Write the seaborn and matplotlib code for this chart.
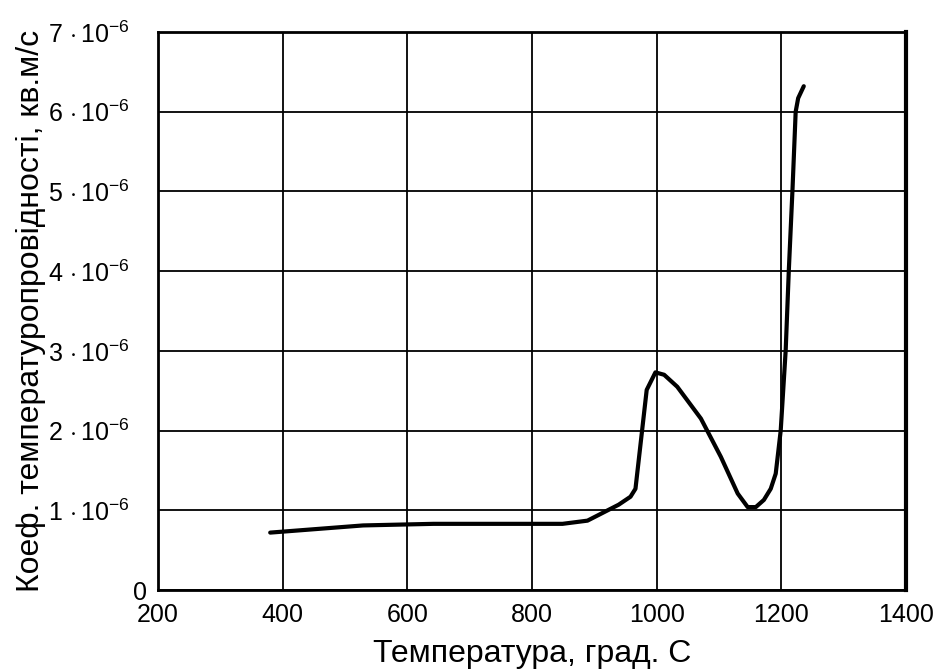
import matplotlib
matplotlib.use("Agg")
import matplotlib.pyplot as plt
from matplotlib.transforms import ScaledTranslation
import seaborn as sns
import pandas as pd

# Data
temperature = [380, 529, 642, 849, 889, 939, 958, 966, 984, 998, 1012, 1033,
               1071, 1103, 1130, 1146, 1159, 1172, 1183, 1191, 1199, 1207,
               1212, 1218, 1223, 1227, 1236]
diffusivity_1e6 = [0.72, 0.81, 0.83, 0.83, 0.87, 1.07, 1.17, 1.27, 2.51, 2.73,
                   2.70, 2.55, 2.15, 1.67, 1.21, 1.04, 1.04, 1.13, 1.27, 1.46,
                   2.00, 3.01, 4.01, 5.04, 6.00, 6.17, 6.32]
x_ticks = [200, 400, 600, 800, 1000, 1200, 1400]
y_ticks_1e6 = [0, 1, 2, 3, 4, 5, 6, 7]
y_tick_labels = ["0"] + [r"$%d\,\cdot 10^{-6}$" % k for k in y_ticks_1e6[1:]]
x_label = "Температура, град. С"
y_label = "Коеф. температуропровідності, кв.м/с"

df = pd.DataFrame({"T": temperature,
                   "a": [v * 1e-6 for v in diffusivity_1e6]})

sns.set_theme(style="white")
plt.rcParams["font.family"] = ["Liberation Sans", "DejaVu Sans"]
plt.rcParams["mathtext.fontset"] = "custom"
plt.rcParams["mathtext.rm"] = "Liberation Sans"
plt.rcParams["mathtext.it"] = "Liberation Sans:italic"
plt.rcParams["mathtext.bf"] = "Liberation Sans:bold"

fig = plt.figure(figsize=(9.37, 6.71), dpi=100)
ax = fig.add_axes([158 / 937, 1 - 590 / 671, 748 / 937, 558 / 671])

sns.lineplot(data=df, x="T", y="a", ax=ax, color="black", linewidth=3,
             sort=False, estimator=None)

ax.set_xlim(200, 1400)
ax.set_ylim(0, 7e-6)
ax.set_xticks(x_ticks)
ax.set_xticklabels([str(t) for t in x_ticks], fontsize=18)
ax.set_yticks([k * 1e-6 for k in y_ticks_1e6])
ax.set_yticklabels(y_tick_labels, fontsize=18)
ax.tick_params(axis="both", length=0, colors="black")
ax.tick_params(axis="x", pad=9)
ax.tick_params(axis="y", pad=20)

ax.grid(True, color="black", linewidth=1.3)
for side, sp in ax.spines.items():
    sp.set_color("black")
    sp.set_linewidth(2.0)
ax.spines["right"].set_linewidth(3.0)

ax.set_xlabel(x_label, fontsize=23, color="black")
ax.set_ylabel(y_label, fontsize=23, color="black")
ax.xaxis.set_label_coords(0.5, -0.088)
ax.yaxis.set_label_coords(-0.150, 0.5)

# shift the "0" label closer to the axis, as in the reference
zero_lbl = ax.get_yticklabels()[0]
zero_lbl.set_transform(zero_lbl.get_transform()
                       + ScaledTranslation(12 / 72, 0, fig.dpi_scale_trans))

fig.savefig("out.png", dpi=100)
